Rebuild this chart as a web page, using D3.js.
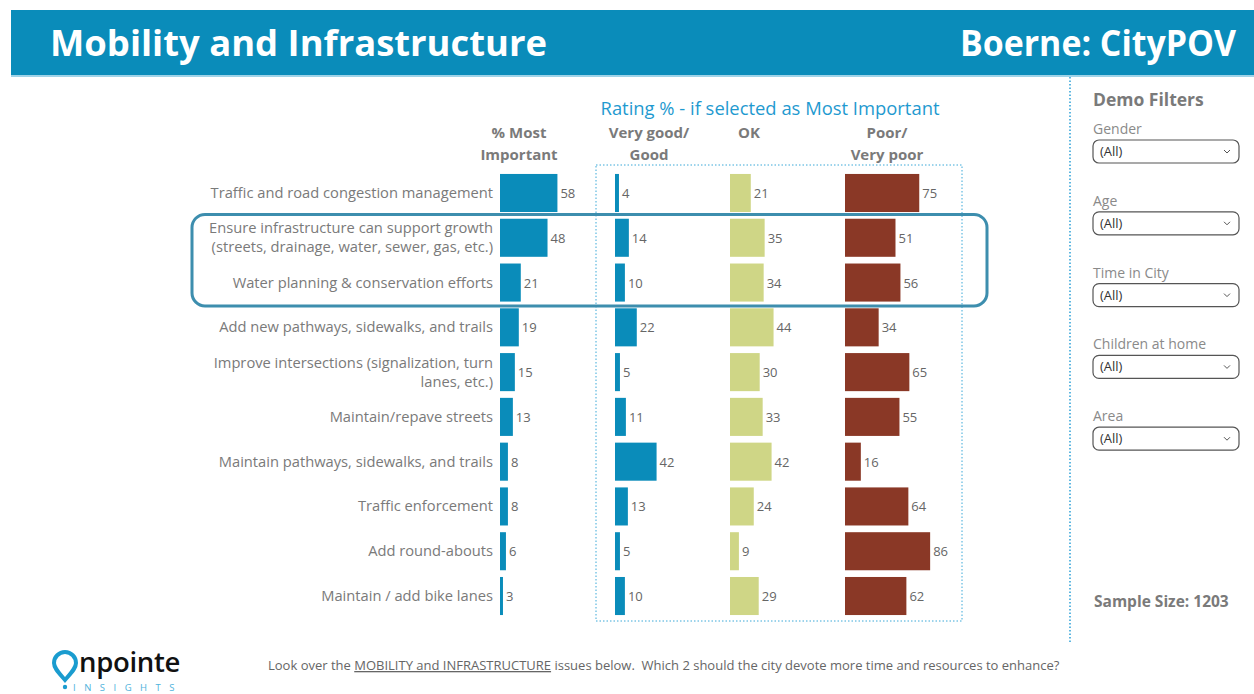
<!DOCTYPE html>
<html>
<head>
<meta charset="utf-8">
<script src="https://cdn.jsdelivr.net/npm/d3@7"></script>
<style>
  html, body { margin: 0; padding: 0; background: #fff; }
  svg { display: block; font-family: "Open Sans", "Noto Sans", sans-serif; }
</style>
</head>
<body>
<div id="chart"></div>
<script>
// ---- Data -------------------------------------------------------------------
const categories = [
  'Traffic and road congestion management',
  'Ensure infrastructure can support growth\n(streets, drainage, water, sewer, gas, etc.)',
  'Water planning & conservation efforts',
  'Add new pathways, sidewalks, and trails',
  'Improve intersections (signalization, turn\nlanes, etc.)',
  'Maintain/repave streets',
  'Maintain pathways, sidewalks, and trails',
  'Traffic enforcement',
  'Add round-abouts',
  'Maintain / add bike lanes'
];
const mostImportant = [58, 48, 21, 19, 15, 13, 8, 8, 6, 3];
const veryGood      = [4, 14, 10, 22, 5, 11, 42, 13, 5, 10];
const okRating      = [21, 35, 34, 44, 30, 33, 42, 24, 9, 29];
const poorRating    = [75, 51, 56, 34, 65, 55, 16, 64, 86, 62];
const columnTitles  = [['% Most', 'Important'], ['Very good/', 'Good'], ['OK'], ['Poor/', 'Very poor']];
const highlighted   = [categories[1], categories[2]];
const filterNames   = ['Gender', 'Age', 'Time in City', 'Children at home', 'Area'];
const sampleSize    = 1203;

// ---- Layout -----------------------------------------------------------------
const W = 1254, H = 694;
const BLUE = '#0a8cba', GREEN = '#cfd686', BROWN = '#8a3826';
const GREY = '#7a7a7a';

const svg = d3.select('#chart').append('svg')
  .attr('width', W).attr('height', H);

// Header band
svg.append('rect').attr('x', 11).attr('y', 10).attr('width', W - 11).attr('height', 65).attr('fill', '#0a8cba');
svg.append('rect').attr('x', 11).attr('y', 75).attr('width', W - 11).attr('height', 2).attr('fill', '#9fd3e8');
svg.append('text').attr('x', 50).attr('y', 56)
  .style('font-size', '36px').style('font-weight', 700).attr('fill', '#fff')
  .attr('textLength', 497).attr('lengthAdjust', 'spacingAndGlyphs')
  .text('Mobility and Infrastructure');
svg.append('text').attr('x', 960).attr('y', 56)
  .style('font-size', '35px').style('font-weight', 700).attr('fill', '#fff')
  .attr('textLength', 276).attr('lengthAdjust', 'spacingAndGlyphs')
  .text('Boerne: CityPOV');

// ---- Scales -----------------------------------------------------------------
const y = d3.scaleBand().domain(categories).range([170.6, 618.4])
  .paddingInner(0.15).paddingOuter(0.075);
const x = d3.scaleLinear().domain([0, 100]).range([0, 99]);

const columns = [
  { x0: 500, values: mostImportant, color: BLUE },
  { x0: 615, values: veryGood,      color: BLUE },
  { x0: 730, values: okRating,      color: GREEN },
  { x0: 845, values: poorRating,    color: BROWN }
];
const headerCenters = [519, 649, 749, 887];

// Rating title + dotted box
svg.append('text').attr('x', 770).attr('y', 115).attr('text-anchor', 'middle')
  .style('font-size', '18.4px').attr('fill', '#1f9ad0')
  .text('Rating % - if selected as Most Important');
svg.append('rect').attr('x', 596).attr('y', 165).attr('width', 366).attr('height', 456)
  .attr('fill', 'none').attr('stroke', '#3aa8d8').attr('stroke-width', 1)
  .attr('stroke-dasharray', '1.5,2');

// Column headers
columnTitles.forEach((lines, i) => {
  const t = svg.append('text').attr('x', headerCenters[i]).attr('y', 138)
    .attr('text-anchor', 'middle').style('font-size', '15px').style('font-weight', 700)
    .attr('fill', GREY);
  lines.forEach((ln, j) => t.append('tspan').attr('x', headerCenters[i]).attr('dy', j ? 22 : 0).text(ln));
});

// Category labels
const labelG = svg.append('g');
categories.forEach(c => {
  const lines = c.split('\n');
  const cy = y(c) + y.bandwidth() / 2;
  const t = labelG.append('text').attr('x', 493).attr('text-anchor', 'end')
    .attr('y', cy + 5 - (lines.length - 1) * 9.5)
    .style('font-size', '14.7px').attr('fill', GREY);
  lines.forEach((ln, j) => t.append('tspan').attr('x', 493).attr('dy', j ? 19 : 0).text(ln));
});

// Bars + value labels
columns.forEach(col => {
  const g = svg.append('g').attr('transform', `translate(${col.x0},0)`);
  g.selectAll('rect').data(categories).join('rect')
    .attr('x', 0).attr('y', d => y(d))
    .attr('width', (d, i) => x(col.values[i]))
    .attr('height', y.bandwidth())
    .attr('fill', col.color);
  g.selectAll('text').data(categories).join('text')
    .attr('x', (d, i) => x(col.values[i]) + 3)
    .attr('y', d => y(d) + y.bandwidth() / 2 + 5)
    .style('font-size', '13px').attr('fill', '#666')
    .text((d, i) => col.values[i]);
});

// Highlight box around selected rows
const hTop = y(highlighted[0]) - y.step() * y.paddingInner() / 2 - 1;
const hBot = y(highlighted[1]) + y.bandwidth() + y.step() * y.paddingInner() / 2 + 1;
svg.append('rect').attr('x', 192).attr('y', hTop).attr('width', 795).attr('height', hBot - hTop)
  .attr('rx', 13).attr('fill', 'none').attr('stroke', '#3d8eae').attr('stroke-width', 3);

// ---- Filters panel ----------------------------------------------------------
svg.append('line').attr('x1', 1070).attr('x2', 1070).attr('y1', 77).attr('y2', 642)
  .attr('stroke', '#2aa0d8').attr('stroke-width', 1.5).attr('stroke-dasharray', '1.5,2');
svg.append('text').attr('x', 1093).attr('y', 106)
  .style('font-size', '17.5px').style('font-weight', 700).attr('fill', GREY).text('Demo Filters');
filterNames.forEach((f, i) => {
  const top = 134 + i * 71.8;
  svg.append('text').attr('x', 1093).attr('y', top).style('font-size', '14px').attr('fill', '#8a8a8a').text(f);
  svg.append('rect').attr('x', 1093).attr('y', top + 6).attr('width', 146).attr('height', 23)
    .attr('rx', 6).attr('fill', '#fff').attr('stroke', '#555').attr('stroke-width', 1.2);
  svg.append('text').attr('x', 1100).attr('y', top + 22).style('font-size', '13px').attr('fill', '#333').text('(All)');
  svg.append('path').attr('d', `M${1224},${top + 16} l3,3 l3,-3`)
    .attr('fill', 'none').attr('stroke', '#555').attr('stroke-width', 1);
});
svg.append('text').attr('x', 1094).attr('y', 607)
  .style('font-size', '15.5px').style('font-weight', 700).attr('fill', GREY)
  .text(`Sample Size: ${sampleSize}`);

// ---- Footer -----------------------------------------------------------------
const foot = svg.append('text').attr('x', 268).attr('y', 670).style('font-size', '13px').attr('fill', '#666')
  .style('white-space', 'pre');
foot.append('tspan').text('Look over the ');
foot.append('tspan').style('text-decoration', 'underline').text('MOBILITY and INFRASTRUCTURE');
foot.append('tspan').text(' issues below.  Which 2 should the city devote more time and resources to enhance?');

// Logo
const logo = svg.append('g');
logo.append('path')
  .attr('d', 'M65,680 C58,672 54,668 54,663 A11,11 0 1 1 76,663 C76,668 72,672 65,680 Z')
  .attr('fill', 'none').attr('stroke', '#1a9ccf').attr('stroke-width', 4);
logo.append('circle').attr('cx', 65).attr('cy', 687).attr('r', 2.2).attr('fill', '#1a9ccf');
logo.append('text').attr('x', 79).attr('y', 672).style('font-size', '27.5px').style('font-weight', 600)
  .attr('fill', '#111').attr('letter-spacing', '-0.3').text('npointe');
logo.append('text').attr('x', 73).attr('y', 691).style('font-size', '9.5px').attr('fill', '#4fb3dc')
  .attr('letter-spacing', '8.5').text('INSIGHTS');
</script>
</body>
</html>
